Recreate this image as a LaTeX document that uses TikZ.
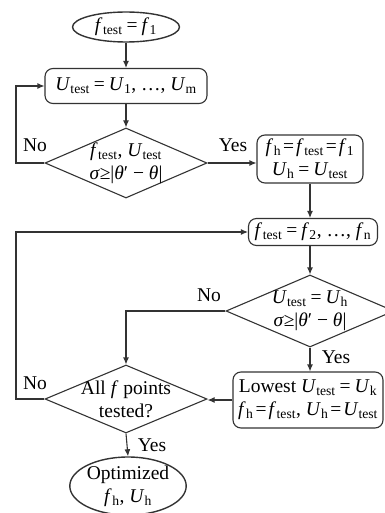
\documentclass[tikz,border=0pt]{standalone}
\usepackage{fontspec}
\setmainfont{Liberation Serif}
\usetikzlibrary{shapes.geometric,arrows.meta}
\newcommand{\lsub}[1]{\textsubscript{#1}}
\newcommand{\Ft}{\textit{f}\kern0.5pt\lsub{test}}
\newcommand{\Ut}{\textit{U}\lsub{test}}
\newcommand{\Fx}[1]{\textit{f}\kern0.5pt\lsub{#1}}
\newcommand{\Ux}[1]{\textit{U}\lsub{#1}}
\newcommand{\eqn}{\kern2pt=\kern2pt}
\newcommand{\eqw}{\kern4pt=\kern4pt}
\newcommand{\Cond}{\textit{σ}≥|\textit{θ}′ − \textit{θ}|}
\begin{document}
\begin{tikzpicture}[x=1pt,y=-1pt,
  font=\fontsize{19.5}{23}\selectfont,
  every node/.style={text=black},
  lc/.style={draw=black!80, line width=1.1pt},
  term/.style={ellipse, lc, line width=1.4pt, inner sep=0pt, align=center},
  proc/.style={rectangle, rounded corners=8pt, lc, inner sep=0pt, align=center},
  dec/.style={diamond, lc, inner sep=0pt},
  arr/.style={black!80, line width=1.1pt, -{Latex[length=7pt,width=6pt]}},
  lab/.style={inner sep=0pt}]
\useasboundingbox (0,0) rectangle (384,513);
\coordinate (L) at (16,0);
\node[term, minimum width=107, minimum height=30] (start) at (126,27) {\Ft\eqw\Fx{1}};
\node[proc, minimum width=162, minimum height=35] (b1) at (126,86) {\Ut\eqw\Ux{1}, …, \Ux{m}};
\node[dec, minimum width=162, minimum height=70,
  label={[align=center, inner sep=0pt]center:{\Ft, \Ut\\\Cond}}] (d1) at (126,163) {};
\node[proc, minimum width=106, minimum height=48] (b2) at (310,159) {\Fx{h}\eqn\Ft\eqn\Fx{1}\\\Ux{h}\eqw\Ut};
\node[proc, minimum width=129, minimum height=27] (b3) at (313,232) {\Ft\eqw\Fx{2}, …, \Fx{n}};
\node[dec, minimum width=168, minimum height=72,
  label={[align=center, inner sep=0pt]center:{\Ut\eqw\Ux{h}\\\Cond}}] (d2) at (310,311) {};
\node[proc, minimum width=150, minimum height=56] (b4) at (308,400) {Lowest \Ut\eqw\Ux{k}\\\Fx{h}\eqn\Ft, \Ux{h}\eqn\Ut};
\node[dec, minimum width=162, minimum height=68,
  label={[align=center, inner sep=0pt]center:{All \textit{f} points\\tested?}}] (d3) at (126,399) {};
\node[term, minimum width=108, minimum height=58] (end) at (128,486) {Optimized\\\Fx{h}, \Ux{h}};
\draw[arr] (start) -- (b1);
\draw[arr] (b1) -- (d1);
\draw[arr] (d1.east) -- (d1.east -| b2.west);
\draw[arr] (d1.west) -- (d1.west -| L) |- (b1.west);
\draw[arr] (b2.south) -- (b2.south |- b3.north);
\draw[arr] (b3.south -| d2.north) -- (d2.north);
\draw[arr] (d2.south) -- (d2.south |- b4.north);
\draw[arr] (d2.west) -| (d3.north);
\draw[arr] (b4.west) -- (b4.west -| d3.east);
\draw[arr] (d3.west) -- (d3.west -| L) |- (b3.west);
\draw[arr] (d3.south) -- (end.north);
\node[lab] (n1) at (35,145) {No};
\node[lab] (y1) at (233,145) {Yes};
\node[lab] (n2) at (209,295) {No};
\node[lab] (y2) at (336,357) {Yes};
\node[lab] (n3) at (35,383) {No};
\node[lab] (y3) at (152,445) {Yes};
\end{tikzpicture}
\end{document}
